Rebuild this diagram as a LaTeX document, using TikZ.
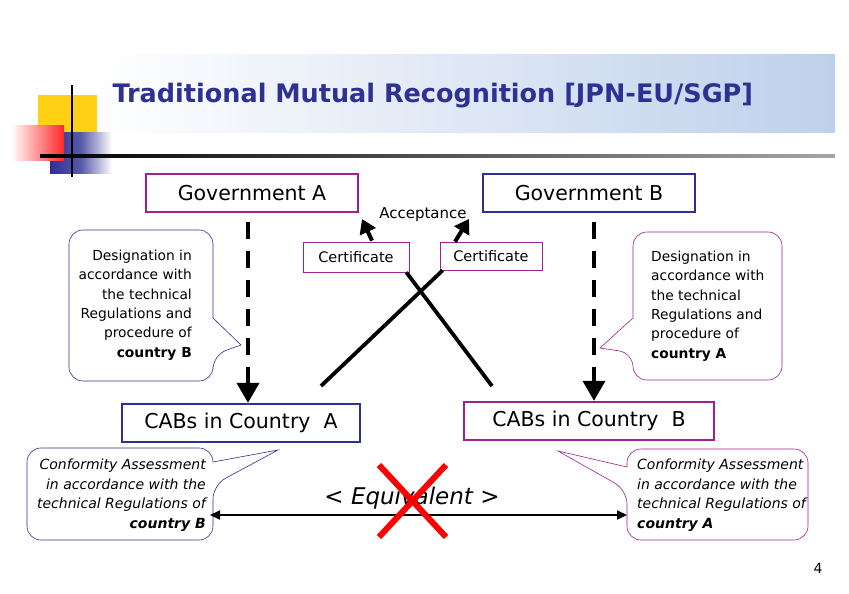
\documentclass[tikz,border=0pt]{standalone}
\usepackage{fontspec}
\setmainfont{DejaVu Sans}
\usetikzlibrary{arrows.meta,shadings}
\definecolor{navy}{RGB}{46,49,146}
\definecolor{purp}{RGB}{160,32,140}
\definecolor{bandblue}{RGB}{190,208,235}
\definecolor{gold}{RGB}{255,208,20}
\tikzset{
  boxP/.style={draw=purp,line width=2.4pt,minimum height=38pt,font=\fontsize{20.5}{24}\selectfont},
  boxN/.style={draw=navy,line width=2.4pt,minimum height=38pt,font=\fontsize{20.5}{24}\selectfont},
  cert/.style={draw=purp,line width=0.7pt,font=\fontsize{14.5}{16}\selectfont,minimum height=30pt,inner sep=4pt},
  calltxt/.style={font=\fontsize{13.8}{19.3}\selectfont,inner sep=0pt},
  callN/.style={draw=navy,line width=0.6pt,rounded corners=14pt,fill=white},
  callP/.style={draw=purp,line width=0.6pt,rounded corners=14pt,fill=white},
  thick arrow/.style={line width=4pt,-{Triangle[length=14pt,width=17pt]}},
  dasharrow/.style={line width=4pt,dash pattern=on 17pt off 12pt,-{Triangle[length=20pt,width=22pt]}},
}
\begin{document}
\begin{tikzpicture}[x=1pt,y=-1pt]
\useasboundingbox (0,0) rectangle (849,594);
% title band
\shade[left color=white,right color=bandblue] (95,55) rectangle (835,132);
\node[anchor=west,font=\fontsize{25.5}{28}\selectfont\bfseries,text=navy] (title) at (109,96) {Traditional Mutual Recognition [JPN-EU/SGP]};
% logo
\fill[gold] (38,95) rectangle (97,132);
\shade[left color=navy,right color=white,middle color=navy!80] (50,132) rectangle (112,173);
\shade[left color=white,right color=red!85] (11,125) rectangle (64,160);
\shade[left color=black,right color=black!35] (40,154) rectangle (835,157);
\draw[line width=2.5pt] (72,85) -- (72,177);
% government boxes
\node[boxP,minimum width=212pt] (ga) at (252,193) {Government A};
\node[boxN,minimum width=212pt] (gb) at (589,193) {Government B};
\node[font=\fontsize{15}{17}\selectfont] (acc) at (423,215) {Acceptance};
\node[cert,minimum width=106pt] (c1) at (356,257) {Certificate};
\node[cert,minimum width=102pt,minimum height=28pt] (c2) at (491,256) {Certificate};
\coordinate (a1) at (362,219);
\coordinate (a2) at (469,219);
\draw[thick arrow] (c1.north) ++(16,-1) -- (a1);
\draw[thick arrow] (c2.north) ++(-36,0) -- (a2);
% CAB boxes
\node[boxN,minimum width=238pt] (ca) at (241,423) {CABs in Country\ \ A};
\node[boxP,minimum width=250pt] (cb) at (589,421) {CABs in Country\ \ B};
% dashed arrows
\coordinate (d1) at (248,222);
\coordinate (d2) at (594,222);
\draw[dasharrow] (d1) -- (ca.north -| d1);
\draw[dasharrow] (d2) -- (cb.north -| d2);
% crossing lines
\draw[line width=3.8pt] (c1.south east) ++(-3,0) -- (492,386);
\draw[line width=3.8pt] (c2.south west) ++(3,0) -- (321,386);
% callouts top
\draw[callN] (213,318) -- (213,230) -- (69,230) -- (69,381) -- (213,381) -- (213,355) [sharp corners] -- (241,345) -- cycle;
\node[calltxt,align=right,anchor=north east] (t1) at (192,250) {Designation in\\accordance with\\the technical\\Regulations and\\procedure of\\\textbf{country B}};
\draw[callP] (633,318) -- (633,232) -- (782,232) -- (782,380) -- (633,380) -- (633,353) [sharp corners] -- (600,348) -- cycle;
\node[calltxt,align=left,anchor=north west] (t2) at (651,251) {Designation in\\accordance with\\the technical\\Regulations and\\procedure of\\\textbf{country A}};
% callouts bottom
\draw[callN] (213,462) -- (213,448) -- (27,448) -- (27,540) -- (213,540) -- (213,485) [sharp corners] -- (278,450) -- cycle;
\node[calltxt,align=right,anchor=north east,font=\fontsize{14}{19.5}\selectfont\itshape] (t3) at (206,459) {Conformity Assessment\\in accordance with the\\technical Regulations of\\\textbf{country B}};
\draw[callP] (627,467) -- (627,449) -- (808,449) -- (808,540) -- (627,540) -- (627,490) [sharp corners] -- (558,451) -- cycle;
\node[calltxt,align=left,anchor=north west,font=\fontsize{14}{19.5}\selectfont\itshape] (t4) at (637,459) {Conformity Assessment\\in accordance with the\\technical Regulations of\\\textbf{country A}};
% equivalent
\coordinate (e1) at (210,515);
\coordinate (e2) at (627,515);
\draw[line width=2pt,{Triangle[length=10pt,width=9pt]}-{Triangle[length=10pt,width=9pt]}] (e1) -- (e2);
\node[font=\fontsize{23}{26}\selectfont\itshape] (eq) at (412,498) {< Equivalent >};
\draw[red,line width=6pt] (379,465) -- (446,537);
\draw[red,line width=6pt] (446,465) -- (379,537);
\node[font=\rmfamily\fontsize{14}{16}\selectfont] (pg) at (818,568) {4};
\end{tikzpicture}
\end{document}
